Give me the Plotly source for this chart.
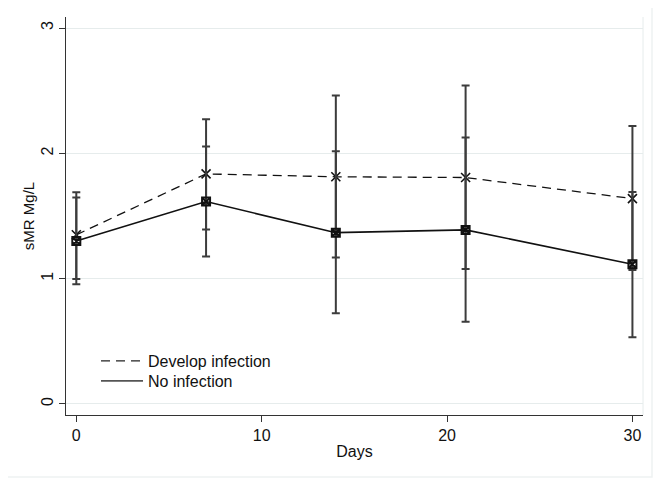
import plotly.graph_objects as go

days = [0, 7, 14, 21, 30]

develop_mean = [1.35, 1.836, 1.813, 1.807, 1.639]
develop_upper = [1.689, 2.272, 2.462, 2.542, 2.218]
develop_lower = [0.998, 1.392, 1.168, 1.078, 1.069]

noinf_mean = [1.301, 1.615, 1.367, 1.389, 1.115]
noinf_upper = [1.647, 2.054, 2.017, 2.127, 1.692]
noinf_lower = [0.956, 1.176, 0.724, 0.657, 0.532]

x_ticks = [0, 10, 20, 30]
y_ticks = [0, 1, 2, 3]

series_names = ["Develop infection", "No infection"]

FONT = "Liberation Sans, Arial, sans-serif"
ERR_COLOR = "#3c3c3c"
GRID = "#e6ecec"

def err(mean, upper, lower):
    return dict(
        type="data", symmetric=False,
        array=[u - m for u, m in zip(upper, mean)],
        arrayminus=[m - l for m, l in zip(mean, lower)],
        color=ERR_COLOR, thickness=2, width=4,
    )

fig = go.Figure()
fig.add_trace(go.Scatter(
    x=days, y=develop_mean, mode="lines+markers", showlegend=False,
    line=dict(color="#111111", width=1.3, dash="9px,6px"),
    marker=dict(symbol="x-thin-open", size=9, line=dict(color="#111111", width=1.6)),
    error_y=err(develop_mean, develop_upper, develop_lower),
))
fig.add_trace(go.Scatter(
    x=days, y=noinf_mean, mode="lines+markers", showlegend=False,
    line=dict(color="#111111", width=1.6),
    marker=dict(symbol="square-x-open", size=8, line=dict(color="#111111", width=2)),
    error_y=err(noinf_mean, noinf_upper, noinf_lower),
))
# legend entries (lines only, like the reference)
fig.add_trace(go.Scatter(x=[None], y=[None], mode="lines", name=series_names[0],
                         legend="legend",
                         line=dict(color="#222222", width=1.3, dash="9px,6px")))
fig.add_trace(go.Scatter(x=[None], y=[None], mode="lines", name=series_names[1],
                         legend="legend2",
                         line=dict(color="#555555", width=1.6)))

leg_common = dict(xanchor="left", yanchor="middle", bgcolor="rgba(0,0,0,0)",
                  itemwidth=42, font=dict(size=16, family=FONT))

# page body has an 8px margin: figure is shrunk and margins reduced to compensate
fig.update_layout(
    width=653, height=473,
    margin=dict(l=58, r=18, t=9, b=66),
    paper_bgcolor="white", plot_bgcolor="white",
    font=dict(family=FONT, size=16, color="#111111"),
    showlegend=True,
    legend=dict(x=0.052, y=0.1357, **leg_common),
    legend2=dict(x=0.052, y=0.0854, **leg_common),
    xaxis=dict(
        range=[-0.556, 30.57], tickmode="array", tickvals=x_ticks,
        ticktext=[str(t) for t in x_ticks], automargin=False,
        showgrid=False, zeroline=False, showline=True, linecolor="#333333", linewidth=1.2,
        ticks="outside", ticklen=6, tickcolor="#333333", tickwidth=1,
        title=dict(text="Days", font=dict(size=16), standoff=2),
        tickfont=dict(size=16),
    ),
    yaxis=dict(
        range=[-0.088, 3.088], tickmode="array", tickvals=y_ticks,
        ticktext=[str(t) for t in y_ticks], tickangle=-90, automargin=False,
        showgrid=True, gridcolor=GRID, gridwidth=1, zeroline=False,
        showline=True, linecolor="#333333", linewidth=1.2,
        ticks="outside", ticklen=6, tickcolor="#333333", tickwidth=1,
        title=dict(text="sMR Mg/L", font=dict(size=15), standoff=0),
        tickfont=dict(size=16),
    ),
    shapes=[
        dict(type="line", xref="paper", yref="paper", x0=1, x1=1, y0=0, y1=1,
             line=dict(color=GRID, width=1)),
        dict(type="rect", xref="paper", yref="paper", x0=-0.1075, x1=1.0156,
             y0=-0.1558, y1=1.0327, line=dict(color="#eef2f2", width=1.5), layer="below"),
    ],
)

fig.write_html("out.html")
